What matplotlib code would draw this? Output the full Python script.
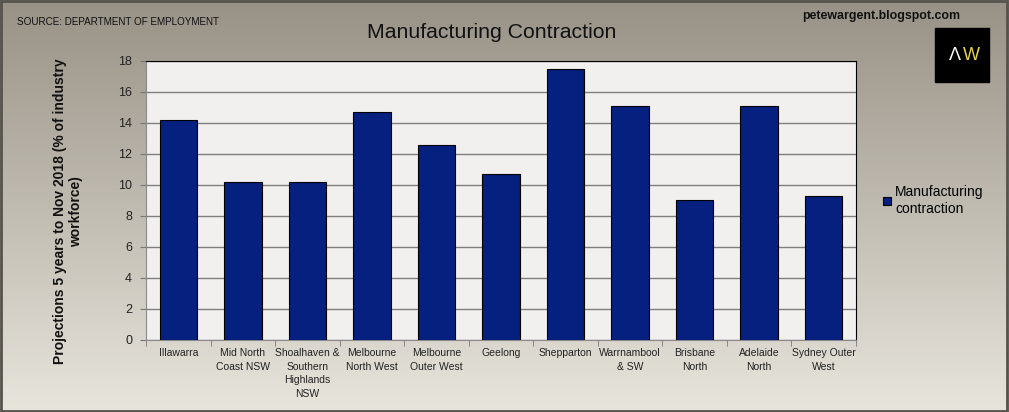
import numpy as np
import matplotlib.pyplot as plt
from matplotlib.patches import Rectangle

plt.rcParams["font.family"] = ["Liberation Sans", "DejaVu Sans"]

regions = ["Illawarra", "Mid North\nCoast NSW", "Shoalhaven &\nSouthern\nHighlands\nNSW",
           "Melbourne\nNorth West", "Melbourne\nOuter West", "Geelong", "Shepparton",
           "Warrnambool\n& SW", "Brisbane\nNorth", "Adelaide\nNorth", "Sydney Outer\nWest"]
contraction = [14.2, 10.2, 10.2, 14.7, 12.6, 10.7, 17.5, 15.1, 9.0, 15.1, 9.3]
yticks = [0, 2, 4, 6, 8, 10, 12, 14, 16, 18]

fig = plt.figure(figsize=(10.09, 4.12), dpi=100)

# background gradient
bg = fig.add_axes([0, 0, 1, 1], zorder=-10)
grad = np.linspace(0, 1, 256).reshape(-1, 1)
top = np.array([0x98, 0x91, 0x86]) / 255
bot = np.array([0xe8, 0xe5, 0xdc]) / 255
img = top + (bot - top) * grad[:, :, None]
bg.imshow(img, aspect="auto", extent=[0, 1, 0, 1], origin="upper")
bg.set_xlim(0, 1)
bg.set_ylim(0, 1)
bg.axis("off")
bg.add_patch(Rectangle((0.001, 0.002), 0.997, 0.995, fill=False, ec="#55524c", lw=2))

ax = fig.add_axes([0.1447, 0.175, 0.7035, 0.677])
ax.set_facecolor("#f1f0ee")
x = np.arange(len(regions))
ax.bar(x, contraction, width=0.58, color="#05207f", edgecolor="black", lw=0.8, zorder=3,
       label="Manufacturing\ncontraction")
ax.set_xlim(-0.5, len(regions) - 0.5)
ax.set_ylim(0, 18)
ax.set_yticks(yticks)
ax.set_yticklabels([str(v) for v in yticks], fontsize=9, color="#222222")
ax.set_xticks(x)
ax.set_xticklabels(regions, fontsize=7.5, color="#222222", va="top", linespacing=1.45)
ax.set_xticks(np.arange(-0.5, len(regions)), minor=True)
ax.tick_params(axis="x", which="major", length=0, pad=6)
ax.tick_params(axis="x", which="minor", length=4, color="#777777")
ax.tick_params(axis="y", length=4, color="#777777", pad=6)
ax.grid(axis="y", color="#7f7f7f", lw=1, zorder=1)
ax.spines["top"].set_color("black")
ax.spines["right"].set_color("black")
ax.spines["left"].set_color("#8a8a8a")
ax.spines["bottom"].set_color("#8a8a8a")

ax.set_ylabel("Projections 5 years to Nov 2018 (% of industry\nworkforce)",
              fontsize=10, fontweight="bold", color="#111111")
ax.yaxis.set_label_coords(-0.088, 0.46)

leg = ax.legend(loc="center left", bbox_to_anchor=(1.02, 0.5), frameon=False,
                fontsize=10, handlelength=0.6, handleheight=0.6, handletextpad=0.3)

fig.text(0.017, 0.947, "SOURCE: DEPARTMENT OF EMPLOYMENT", fontsize=7.1, color="#111111",
         va="center", ha="left")
fig.text(0.487, 0.922, "Manufacturing Contraction", fontsize=15.3, color="#111111",
         va="center", ha="center")
fig.text(881 / 1009, 0.96, "petewargent.blogspot.com", fontsize=8.9, fontweight="bold",
         color="#111111", va="center", ha="center")

# AW logo
bg.add_patch(Rectangle((935 / 1009, 1 - 82 / 412), 54 / 1009, 54 / 412, color="black"))
fig.text(955 / 1009, 1 - 55 / 412, "Λ", fontsize=13, color="white", va="center", ha="center")
fig.text(971 / 1009, 1 - 55 / 412, "W", fontsize=13, color="#e6d34a", va="center", ha="center")

fig.savefig("out.png", dpi=100)
